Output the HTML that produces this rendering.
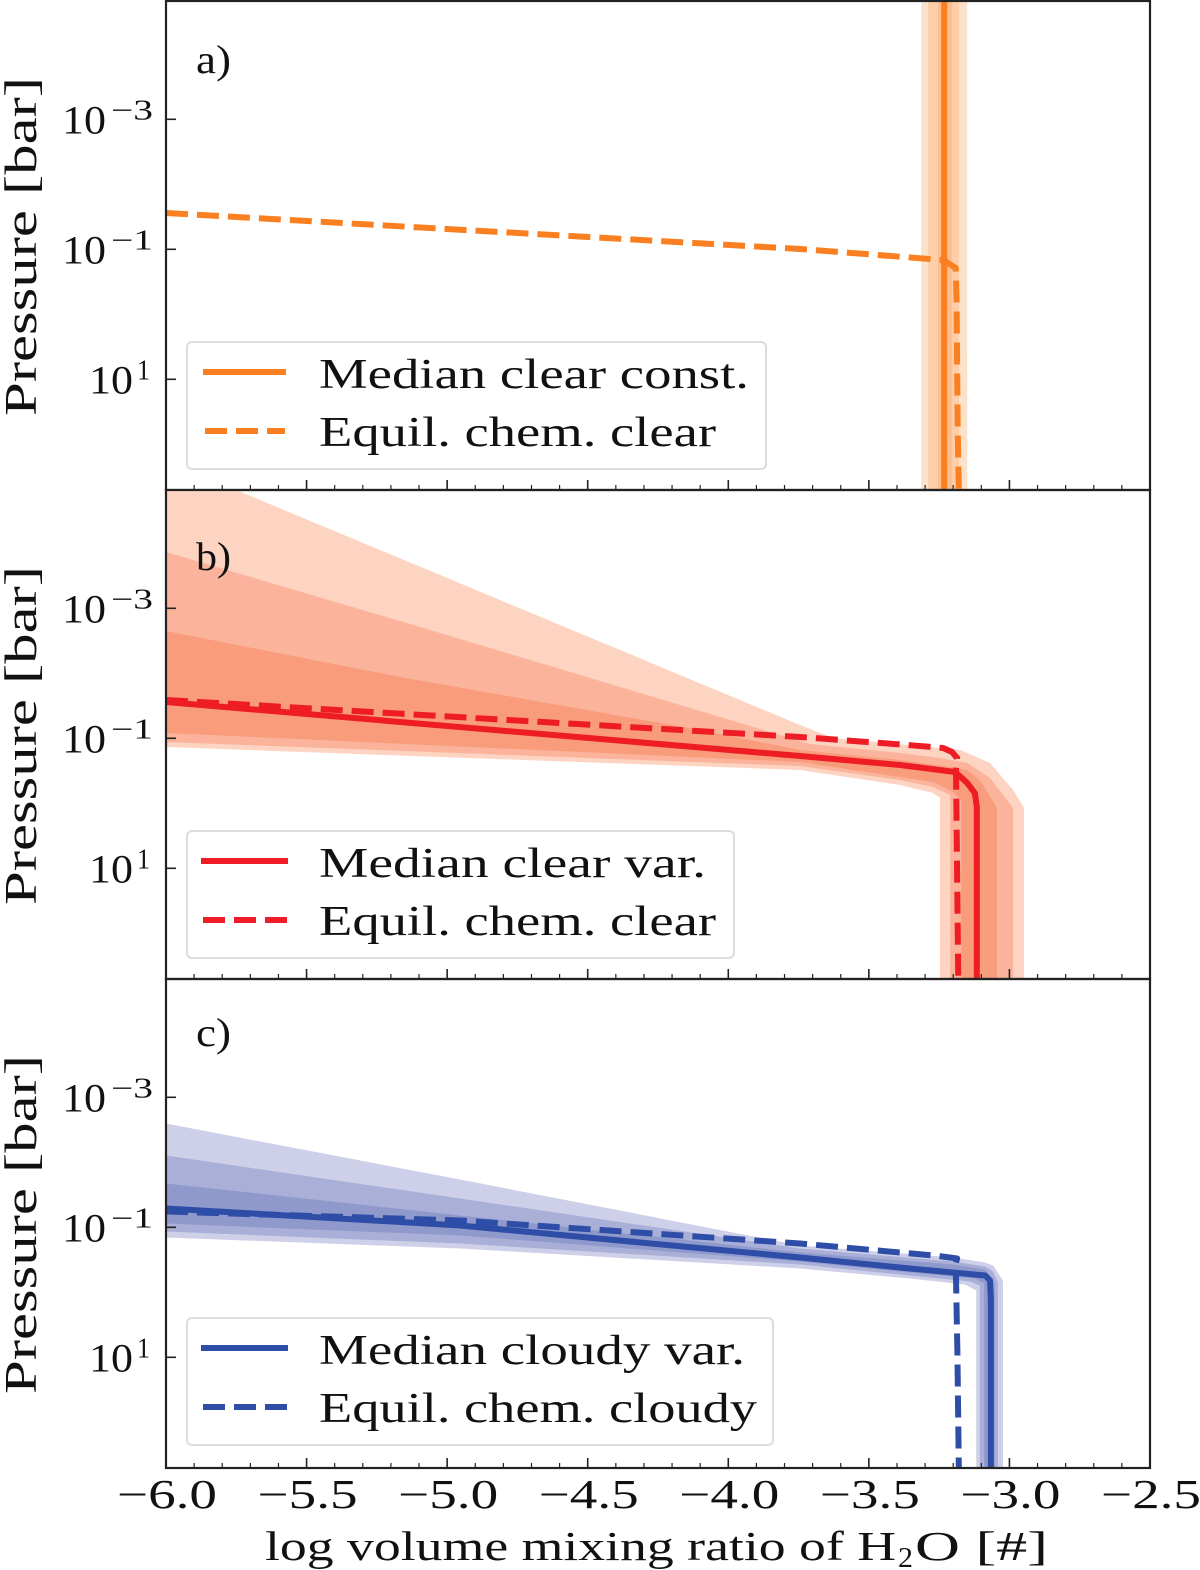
<!DOCTYPE html>
<html lang="en">
<head>
<meta charset="utf-8">
<title>H2O mixing ratio profiles</title>
<style>
html,body{margin:0;padding:0;background:#fff;}
body{width:1200px;height:1570px;overflow:hidden;}
svg{display:block;}
text{font-family:"Liberation Serif",serif;fill:#111;}
</style>
</head>
<body>
<svg id="chart" xmlns="http://www.w3.org/2000/svg" width="1200" height="1570" viewBox="0 0 1200 1570"></svg>
<script>
// Axis ticks and labels
const xTickValues = [-6, -5.5, -5, -4.5, -4, -3.5, -3, -2.5];
const xTickLabels = ["\u22126.0", "\u22125.5", "\u22125.0", "\u22124.5", "\u22124.0", "\u22123.5", "\u22123.0", "\u22122.5"];
const xMinorValues = [-5.9,-5.8,-5.7,-5.6,-5.4,-5.3,-5.2,-5.1,-4.9,-4.8,-4.7,-4.6,-4.4,-4.3,-4.2,-4.1,-3.9,-3.8,-3.7,-3.6,-3.4,-3.3,-3.2,-3.1,-2.9,-2.8,-2.7,-2.6];
const yTickExponents = [-3, -1, 1];
const yTickLabels = ["\u22123", "\u22121", "1"];

// Panel a: [log x, log P]
const aOuter = [[-3.314,-4.82],[-3.15,-4.82],[-3.15,2.7],[-3.314,2.7]];
const aMiddle = [[-3.289,-4.82],[-3.179,-4.82],[-3.179,2.7],[-3.289,2.7]];
const aInner = [[-3.254,-4.82],[-3.204,-4.82],[-3.204,2.7],[-3.254,2.7]];
const aMedian = [[-3.232,-4.82],[-3.232,2.7]];
const aEquil = [[-6,-1.558],[-3.745,-1.005],[-3.236,-0.835],[-3.191,-0.712],[-3.188,-0.22],[-3.184,1.734],[-3.18,2.7]];

// Panel b
const bOuter = [[-6,-4.82],[-5.751,-4.82],[-3.745,-1.205],[-3.628,-1.005],[-3.175,-0.82],[-3.069,-0.62],[-2.987,-0.205],[-2.948,0.072],[-2.948,2.7],[-3.247,2.7],[-3.247,-0.082],[-3.272,-0.158],[-3.389,-0.282],[-3.745,-0.512],[-6,-0.866]];
const bMiddle = [[-6,-3.866],[-5.168,-2.805],[-3.709,-0.912],[-3.389,-0.774],[-3.247,-0.697],[-3.15,-0.62],[-3.069,-0.389],[-2.987,0.072],[-2.987,2.7],[-3.211,2.7],[-3.211,-0.128],[-3.272,-0.251],[-3.389,-0.358],[-3.745,-0.574],[-6,-0.943]];
const bInner = [[-6,-2.651],[-5.168,-1.943],[-4.101,-1.128],[-3.745,-0.82],[-3.389,-0.666],[-3.211,-0.558],[-3.15,-0.512],[-3.105,-0.358],[-3.044,0.072],[-3.044,2.7],[-3.172,2.7],[-3.172,-0.051],[-3.2,-0.174],[-3.272,-0.328],[-3.389,-0.405],[-3.745,-0.635],[-6,-1.082]];
const bMedian = [[-6,-1.558],[-3.745,-0.728],[-3.389,-0.589],[-3.193,-0.482],[-3.15,-0.312],[-3.123,-0.158],[-3.116,0.057],[-3.116,2.7]];
const bEquil = [[-6,-1.589],[-3.745,-1.02],[-3.361,-0.897],[-3.236,-0.851],[-3.204,-0.789],[-3.186,-0.697],[-3.19,-0.512],[-3.182,2.7]];

// Panel c
const cOuter = [[-6,-2.597],[-4.954,-1.735],[-3.745,-0.72],[-3.2,-0.535],[-3.086,-0.458],[-3.058,-0.412],[-3.023,-0.182],[-3.023,2.7],[-3.118,2.7],[-3.118,-0.028],[-3.158,-0.12],[-3.354,-0.212],[-3.745,-0.366],[-4.954,-0.674],[-6,-0.843]];
const cMiddle = [[-6,-2.105],[-4.954,-1.443],[-3.745,-0.674],[-3.2,-0.474],[-3.086,-0.397],[-3.058,-0.32],[-3.041,-0.151],[-3.041,2.7],[-3.105,2.7],[-3.105,-0.105],[-3.14,-0.166],[-3.354,-0.258],[-3.745,-0.428],[-4.954,-0.751],[-6,-0.935]];
const cInner = [[-6,-1.674],[-4.954,-1.182],[-3.745,-0.612],[-3.2,-0.428],[-3.086,-0.351],[-3.052,-0.135],[-3.052,2.7],[-3.09,2.7],[-3.09,-0.135],[-3.123,-0.212],[-3.354,-0.305],[-3.745,-0.474],[-4.954,-0.874],[-6,-1.058]];
const cMedian = [[-6,-1.289],[-4.954,-1.028],[-3.745,-0.535],[-3.354,-0.366],[-3.086,-0.258],[-3.069,-0.182],[-3.066,0.126],[-3.066,2.7]];
const cEquil = [[-6,-1.243],[-4.954,-1.105],[-3.745,-0.751],[-3.255,-0.56],[-3.186,-0.52],[-3.191,-0.45],[-3.185,0.942],[-3.18,2.7]];

const NS = "http://www.w3.org/2000/svg";
const svg = document.getElementById("chart");
const X_LEFT = 166, X_RIGHT = 1150, X_MIN = -6, X_MAX = -2.5;
const P_TOP = -4.82, P_SCALE = 65, PANEL_H = 489;

function xScale(v) { return X_LEFT + (v - X_MIN) * (X_RIGHT - X_LEFT) / (X_MAX - X_MIN); }
function yScale(lp, top) { return top + (lp - P_TOP) * P_SCALE; }

function make(tag, parent, attrs) {
  const el = document.createElementNS(NS, tag);
  for (const k in attrs) el.setAttribute(k, attrs[k]);
  parent.appendChild(el);
  return el;
}
function pathOf(points, top, close) {
  return points.map(function (p, i) {
    return (i ? "L" : "M") + xScale(p[0]).toFixed(2) + " " + yScale(p[1], top).toFixed(2);
  }).join(" ") + (close ? " Z" : "");
}
function label(parent, str, x, y, size, len, anchor) {
  const t = make("text", parent, { x: x, y: y, "font-size": size });
  if (anchor) t.setAttribute("text-anchor", anchor);
  if (len) { t.setAttribute("textLength", len); t.setAttribute("lengthAdjust", "spacingAndGlyphs"); }
  t.textContent = str;
  return t;
}

const panels = [
  { id: "a", top: 1, colors: ["#FDE2CB", "#FDCEA8", "#FCBF90"], line: "#F97F20",
    bands: [aOuter, aMiddle, aInner], median: aMedian, equil: aEquil, letterY: 73,
    legend: { w: 579, y: 342, hx: 203, hw: 83, texts: ["Median clear const.", "Equil. chem. clear"], lens: [430, 397] } },
  { id: "b", top: 490, colors: ["#FDD3C1", "#FBB49B", "#F99C7C"], line: "#EE1C25",
    bands: [bOuter, bMiddle, bInner], median: bMedian, equil: bEquil, letterY: 570,
    legend: { w: 547, y: 831, hx: 201, hw: 87, texts: ["Median clear var.", "Equil. chem. clear"], lens: [387, 397] } },
  { id: "c", top: 979, colors: ["#CDD0E8", "#A9AFD7", "#9099CC"], line: "#2E4DA7",
    bands: [cOuter, cMiddle, cInner], median: cMedian, equil: cEquil, letterY: 1046,
    legend: { w: 586, y: 1318, hx: 201, hw: 87, texts: ["Median cloudy var.", "Equil. chem. cloudy"], lens: [426, 438] } }
];

const bandNames = ["outer", "middle", "inner"];

panels.forEach(function (pn) {
  const top = pn.top;
  const g = make("g", svg, {});
  
  

  pn.bands.forEach(function (band, i) {
    const poly = make("path", g, { d: pathOf(band, top, true), fill: pn.colors[i] });
    
    
  });

  const med = make("path", g, { d: pathOf(pn.median, top, false), fill: "none", stroke: pn.line, "stroke-width": 6, "stroke-linejoin": "round" });
  
  

  const eq = make("path", g, { d: pathOf(pn.equil, top, false), fill: "none", stroke: pn.line, "stroke-width": 6, "stroke-dasharray": "22 9", "stroke-linejoin": "round" });
  
  

  // Ticks
  const bottom = top + PANEL_H;
  xTickValues.forEach(function (v) {
    const t = make("line", g, { x1: xScale(v), x2: xScale(v), y1: bottom, y2: bottom - 10, stroke: "#222", "stroke-width": 1.6 });
    
    
  });
  xMinorValues.forEach(function (v) {
    const t = make("line", g, { x1: xScale(v), x2: xScale(v), y1: bottom, y2: bottom - 5, stroke: "#222", "stroke-width": 1.2 });
    
    
  });
  yTickExponents.forEach(function (e, i) {
    const y = yScale(e, top);
    const t = make("line", g, { x1: X_LEFT, x2: X_LEFT + 10, y1: y, y2: y, stroke: "#222", "stroke-width": 1.6 });
    
    
    const wide = yTickLabels[i].length > 1;
    const base = label(g, "10", wide ? 62 : 89, y + 14, 40, 44);
    
    
    const sup = label(g, yTickLabels[i], wide ? 111 : 137, y, 28, wide ? 42 : 13);
    
    
  });

  // Frame
  const frame = make("rect", g, { x: X_LEFT, y: top, width: X_RIGHT - X_LEFT, height: PANEL_H, fill: "none", stroke: "#222", "stroke-width": 2.2 });
  
  

  // Panel letter
  const letter = label(g, pn.id + ")", 196, pn.letterY, 40, 35);
  
  

  // Y title
  const yMid = top + 245.5;
  const yt = make("text", g, { transform: "translate(36 " + yMid + ") rotate(-90)", "text-anchor": "middle", "font-size": 45, textLength: 339, lengthAdjust: "spacingAndGlyphs" });
  yt.textContent = "Pressure [bar]";
  
  

  // Legend
  const lg = pn.legend;
  const lgGroup = make("g", g, {});
  
  
  const box = make("rect", lgGroup, { x: 187, y: lg.y, width: lg.w, height: 127, rx: 5, fill: "#fff", stroke: "#dcdcdc", "stroke-width": 2 });
  
  
  const h1 = make("line", lgGroup, { x1: lg.hx, x2: lg.hx + lg.hw, y1: lg.y + 30, y2: lg.y + 30, stroke: pn.line, "stroke-width": 6 });
  
  
  const h2 = make("line", lgGroup, { x1: lg.hx + 2, x2: lg.hx + lg.hw - 1, y1: lg.y + 89, y2: lg.y + 89, stroke: pn.line, "stroke-width": 6, "stroke-dasharray": "22 9" });
  
  
  const t1 = label(lgGroup, lg.texts[0], 319, lg.y + 46, 42, lg.lens[0]);
  
  
  const t2 = label(lgGroup, lg.texts[1], 319, lg.y + 104, 42, lg.lens[1]);
  
  
});

// X tick labels (bottom panel only)
xTickValues.forEach(function (v, i) {
  const t = label(svg, xTickLabels[i], xScale(v) - 49, 1508, 41, 100);
  
  
});

// X axis title
const xt1 = label(svg, "log volume mixing ratio of H", 265, 1560, 41, 631);


const xt2 = label(svg, "2", 898, 1567, 28, 15);


const xt3 = label(svg, "O [#]", 915, 1560, 41, 133);


</script>
</body>
</html>
